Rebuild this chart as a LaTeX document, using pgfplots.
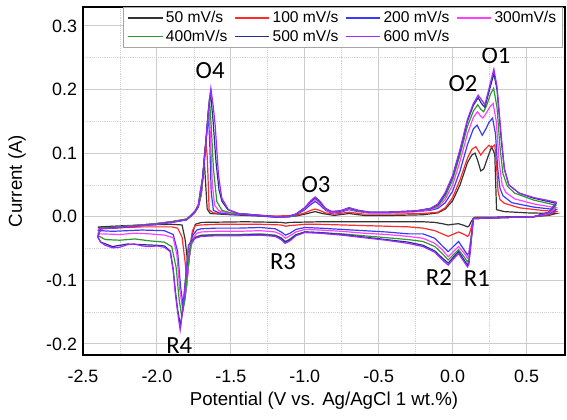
\documentclass[border=0pt]{standalone}
\usepackage{pgfplots}
\pgfplotsset{compat=1.18}
\usepackage{fontspec}
\setmainfont{Liberation Sans}
\newfontfamily\calib{Carlito}

\definecolor{c50}{HTML}{333333}
\definecolor{c100}{HTML}{FF2A2A}
\definecolor{c200}{HTML}{3A3AFF}
\definecolor{c300}{HTML}{FF40FF}
\definecolor{c400}{HTML}{2E9A2E}
\definecolor{c500}{HTML}{2B2B8F}
\definecolor{c600}{HTML}{9A2BFF}

\newcommand{\annot}{\calib\fontsize{18.5}{20}\selectfont}

\begin{document}
\begin{tikzpicture}
\begin{axis}[
    name=ax,
    scale only axis,
    width=361.5pt, height=261pt,
    xmin=-2.5, xmax=0.76,
    ymin=-0.2175, ymax=0.3297,
    xtick={-2.5,-2,-1.5,-1,-0.5,0,0.5},
    ytick={-0.2,-0.1,0,0.1,0.2,0.3},
    minor x tick num=1, minor y tick num=1,
    major tick length=0pt, minor tick length=0pt,
    grid=both,
    major grid style={gray!40, line width=0.8pt},
    minor grid style={gray!35, densely dotted, line width=0.5pt},
    axis line style={line width=1pt},
    /pgf/number format/.cd, fixed, fixed zerofill, precision=1, assume math mode=true,
    /pgfplots/.cd,
    ticklabel style={font=\fontsize{13.4}{16}\selectfont},
    xticklabel style={yshift=-8pt},
    yticklabel style={xshift=-1pt},
    xlabel={Potential (V vs. Ag/AgCl 1 wt.\%)},
    ylabel={Current (A)},
    label style={font=\fontsize{14}{16}\selectfont},
    xlabel style={at={(axis description cs:0.5,-0.13)}, anchor=center},
    ylabel style={at={(axis description cs:-0.137,0.5)}, anchor=center},
    legend columns=4,
    legend cell align=left,
    legend image code/.code={\draw[#1, line width=0.8pt] (0pt,0pt) -- (26pt,0pt);},
    legend style={at={(rel axis cs:0.996,1)}, anchor=north east,
        draw=gray!70, line width=0.5pt, fill=white,
        font=\fontsize{11.7}{13}\selectfont,
        inner xsep=3pt, inner ysep=1pt,
        /tikz/every even column/.append style={column sep=3pt}},
    every axis plot/.append style={line width=0.9pt},
]

% 50 mV/s
\addplot[c50] coordinates {
(-2.40,-0.016) (-2.38,-0.018) (-2.3,-0.017) (-2.2,-0.015) (-2.1,-0.013) (-2.0,-0.011) (-1.9,-0.008) (-1.8,-0.004) (-1.77,0.001) (-1.74,0.008) (-1.72,0.015) (-1.70,0.035) (-1.69,0.060) (-1.68,0.089) (-1.67,0.050) (-1.66,0.012) (-1.64,0.005) (-1.5,0.003) (-1.4,0.002) (-1.2,0.000) (-1.06,0.001) (-1.0,0.004) (-0.93,0.008) (-0.88,0.005) (-0.8,0.002) (-0.70,0.005) (-0.6,0.002) (-0.4,0.002) (-0.2,0.003) (-0.1,0.006) (-0.05,0.012) (0.0,0.025) (0.05,0.050) (0.1,0.085) (0.13,0.097) (0.151,0.100) (0.17,0.088) (0.19,0.072) (0.21,0.075) (0.24,0.095) (0.264,0.110) (0.285,0.098) (0.297,0.011) (0.35,0.008) (0.5,0.006) (0.7,0.005)
(0.65,0.002) (0.55,0.000) (0.4,0.000) (0.25,-0.001) (0.15,-0.001) (0.14,-0.003) (0.125,-0.008) (0.11,-0.015) (0.10,-0.016) (0.08,-0.014) (0.04,-0.011) (0.0,-0.012) (-0.03,-0.013) (-0.07,-0.011) (-0.12,-0.009) (-0.2,-0.008) (-0.45,-0.008) (-0.9,-0.008) (-1.1,-0.009) (-1.13,-0.010) (-1.16,-0.009) (-1.4,-0.008) (-1.7,-0.009) (-1.74,-0.012) (-1.765,-0.030) (-1.79,-0.076) (-1.81,-0.035) (-1.83,-0.013) (-1.9,-0.012) (-2.1,-0.013) (-2.3,-0.015) (-2.38,-0.016) (-2.40,-0.016)
};
\addlegendentry{50 mV/s}

% 100 mV/s
\addplot[c100] coordinates {
(-2.40,-0.018) (-2.38,-0.018) (-2.3,-0.017) (-2.2,-0.015) (-2.1,-0.013) (-2.0,-0.011) (-1.9,-0.008) (-1.8,-0.004) (-1.77,0.001) (-1.74,0.008) (-1.72,0.016) (-1.70,0.036) (-1.69,0.060) (-1.68,0.095) (-1.669,0.118) (-1.66,0.095) (-1.655,0.066) (-1.647,0.011) (-1.62,0.006) (-1.5,0.004) (-1.4,0.003) (-1.2,0.001) (-1.06,0.002) (-1.0,0.006) (-0.96,0.010) (-0.93,0.012) (-0.9,0.010) (-0.86,0.006) (-0.8,0.004) (-0.70,0.007) (-0.6,0.004) (-0.4,0.004) (-0.2,0.005) (-0.1,0.007) (-0.05,0.014) (0.0,0.030) (0.05,0.058) (0.1,0.092) (0.13,0.106) (0.157,0.110) (0.175,0.103) (0.19,0.097) (0.22,0.106) (0.245,0.112) (0.265,0.109) (0.285,0.113) (0.297,0.080) (0.307,0.040) (0.32,0.027) (0.35,0.021) (0.45,0.014) (0.6,0.010) (0.7,0.008)
(0.65,0.003) (0.55,0.000) (0.4,-0.001) (0.25,-0.002) (0.15,-0.002) (0.14,-0.003) (0.125,-0.018) (0.11,-0.029) (0.10,-0.031) (0.08,-0.028) (0.04,-0.024) (0.0,-0.028) (-0.03,-0.031) (-0.07,-0.027) (-0.12,-0.022) (-0.2,-0.018) (-0.3,-0.016) (-0.45,-0.015) (-0.6,-0.014) (-0.75,-0.013) (-0.9,-0.012) (-1.0,-0.012) (-1.1,-0.014) (-1.13,-0.015) (-1.16,-0.013) (-1.3,-0.012) (-1.6,-0.012) (-1.7,-0.013) (-1.74,-0.014) (-1.76,-0.022) (-1.78,-0.060) (-1.797,-0.0995) (-1.81,-0.070) (-1.83,-0.032) (-1.86,-0.018) (-1.9,-0.016) (-2.1,-0.016) (-2.3,-0.018) (-2.38,-0.018) (-2.40,-0.018)
};
\addlegendentry{100 mV/s}

% 200 mV/s
\addplot[c200] coordinates {
(-2.40,-0.022) (-2.38,-0.018) (-2.3,-0.017) (-2.2,-0.015) (-2.1,-0.013) (-2.0,-0.011) (-1.9,-0.008) (-1.8,-0.004) (-1.77,0.002) (-1.74,0.009) (-1.72,0.018) (-1.70,0.038) (-1.69,0.062) (-1.675,0.105) (-1.651,0.160) (-1.642,0.110) (-1.633,0.039) (-1.618,0.010) (-1.58,0.006) (-1.5,0.004) (-1.4,0.003) (-1.3,0.001) (-1.2,-0.001) (-1.1,0.000) (-1.05,0.004) (-1.0,0.011) (-0.96,0.019) (-0.93,0.024) (-0.9,0.019) (-0.86,0.010) (-0.82,0.006) (-0.76,0.007) (-0.70,0.011) (-0.64,0.008) (-0.56,0.006) (-0.45,0.006) (-0.35,0.007) (-0.25,0.008) (-0.15,0.010) (-0.1,0.013) (-0.05,0.022) (0.0,0.040) (0.05,0.072) (0.1,0.113) (0.14,0.138) (0.165,0.144) (0.185,0.135) (0.20,0.128) (0.225,0.138) (0.245,0.148) (0.27,0.155) (0.29,0.130) (0.305,0.075) (0.32,0.045) (0.34,0.033) (0.4,0.022) (0.55,0.015) (0.7,0.011)
(0.65,0.004) (0.55,0.000) (0.4,-0.001) (0.25,-0.002) (0.15,-0.003) (0.14,-0.003) (0.125,-0.032) (0.11,-0.057) (0.10,-0.060) (0.08,-0.053) (0.04,-0.039) (0.0,-0.048) (-0.03,-0.055) (-0.07,-0.046) (-0.12,-0.034) (-0.2,-0.027) (-0.3,-0.027) (-0.45,-0.024) (-0.6,-0.022) (-0.75,-0.020) (-0.9,-0.018) (-1.0,-0.017) (-1.06,-0.020) (-1.1,-0.026) (-1.13,-0.029) (-1.16,-0.024) (-1.2,-0.019) (-1.3,-0.017) (-1.45,-0.018) (-1.6,-0.018) (-1.7,-0.019) (-1.73,-0.021) (-1.76,-0.030) (-1.78,-0.060) (-1.80,-0.110) (-1.822,-0.142) (-1.84,-0.110) (-1.86,-0.055) (-1.89,-0.028) (-1.95,-0.022) (-2.1,-0.021) (-2.2,-0.022) (-2.3,-0.023) (-2.38,-0.022) (-2.40,-0.022)
};
\addlegendentry{200 mV/s}

% 300 mV/s
\addplot[c300] coordinates {
(-2.40,-0.027) (-2.38,-0.018) (-2.3,-0.017) (-2.2,-0.015) (-2.1,-0.013) (-2.0,-0.011) (-1.9,-0.008) (-1.8,-0.004) (-1.77,0.002) (-1.74,0.009) (-1.72,0.018) (-1.70,0.038) (-1.69,0.062) (-1.672,0.105) (-1.648,0.170) (-1.638,0.125) (-1.625,0.050) (-1.61,0.018) (-1.58,0.009) (-1.5,0.005) (-1.4,0.004) (-1.3,0.002) (-1.2,0.000) (-1.1,0.000) (-1.05,0.005) (-1.0,0.013) (-0.96,0.022) (-0.93,0.027) (-0.9,0.022) (-0.86,0.011) (-0.82,0.007) (-0.76,0.008) (-0.70,0.012) (-0.64,0.009) (-0.56,0.006) (-0.45,0.006) (-0.35,0.007) (-0.25,0.008) (-0.15,0.011) (-0.1,0.015) (-0.05,0.027) (0.0,0.050) (0.05,0.087) (0.1,0.130) (0.14,0.156) (0.168,0.165) (0.19,0.158) (0.205,0.155) (0.225,0.162) (0.25,0.172) (0.274,0.178) (0.295,0.150) (0.315,0.085) (0.335,0.050) (0.36,0.038) (0.42,0.028) (0.55,0.020) (0.7,0.014)
(0.65,0.005) (0.55,0.000) (0.4,-0.001) (0.25,-0.002) (0.15,-0.003) (0.14,-0.003) (0.125,-0.034) (0.11,-0.062) (0.10,-0.065) (0.08,-0.058) (0.04,-0.047) (0.0,-0.056) (-0.03,-0.063) (-0.07,-0.052) (-0.12,-0.042) (-0.2,-0.034) (-0.3,-0.031) (-0.45,-0.028) (-0.6,-0.026) (-0.75,-0.023) (-0.9,-0.021) (-1.0,-0.020) (-1.06,-0.024) (-1.1,-0.030) (-1.13,-0.034) (-1.16,-0.028) (-1.2,-0.024) (-1.3,-0.022) (-1.45,-0.023) (-1.6,-0.023) (-1.7,-0.024) (-1.73,-0.026) (-1.76,-0.035) (-1.78,-0.062) (-1.80,-0.112) (-1.825,-0.148) (-1.845,-0.115) (-1.865,-0.060) (-1.89,-0.033) (-1.95,-0.029) (-2.05,-0.027) (-2.15,-0.026) (-2.25,-0.028) (-2.38,-0.027) (-2.40,-0.027)
};
\addlegendentry{300mV/s}

% 400 mV/s
\addplot[c400] coordinates {
(-2.40,-0.030) (-2.38,-0.018) (-2.3,-0.017) (-2.2,-0.015) (-2.1,-0.013) (-2.0,-0.011) (-1.9,-0.008) (-1.8,-0.004) (-1.77,0.002) (-1.74,0.009) (-1.72,0.018) (-1.70,0.038) (-1.69,0.062) (-1.674,0.102) (-1.645,0.186) (-1.632,0.140) (-1.618,0.076) (-1.595,0.024) (-1.56,0.010) (-1.5,0.006) (-1.4,0.004) (-1.3,0.002) (-1.2,0.000) (-1.1,0.000) (-1.05,0.005) (-1.0,0.014) (-0.96,0.024) (-0.93,0.029) (-0.9,0.024) (-0.86,0.012) (-0.82,0.008) (-0.76,0.009) (-0.70,0.013) (-0.64,0.009) (-0.56,0.007) (-0.45,0.007) (-0.35,0.008) (-0.25,0.009) (-0.15,0.012) (-0.1,0.017) (-0.05,0.032) (0.0,0.058) (0.05,0.097) (0.1,0.142) (0.14,0.166) (0.17,0.176) (0.19,0.169) (0.21,0.165) (0.23,0.175) (0.255,0.192) (0.277,0.202) (0.30,0.172) (0.32,0.110) (0.34,0.068) (0.37,0.048) (0.42,0.037) (0.55,0.026) (0.7,0.018)
(0.65,0.006) (0.55,0.000) (0.4,-0.001) (0.25,-0.002) (0.15,-0.003) (0.14,-0.003) (0.125,-0.036) (0.11,-0.068) (0.10,-0.071) (0.08,-0.064) (0.04,-0.052) (0.0,-0.061) (-0.03,-0.068) (-0.07,-0.058) (-0.12,-0.047) (-0.2,-0.039) (-0.3,-0.036) (-0.45,-0.033) (-0.6,-0.030) (-0.75,-0.027) (-0.9,-0.025) (-1.0,-0.024) (-1.06,-0.028) (-1.1,-0.035) (-1.13,-0.039) (-1.16,-0.033) (-1.2,-0.029) (-1.3,-0.027) (-1.45,-0.028) (-1.6,-0.028) (-1.7,-0.029) (-1.74,-0.032) (-1.77,-0.045) (-1.79,-0.080) (-1.81,-0.130) (-1.832,-0.157) (-1.85,-0.130) (-1.87,-0.080) (-1.90,-0.047) (-1.95,-0.040) (-2.05,-0.038) (-2.15,-0.035) (-2.25,-0.037) (-2.35,-0.036) (-2.38,-0.032) (-2.40,-0.030)
};
\addlegendentry{400mV/s}

% 500 mV/s
\addplot[c500] coordinates {
(-2.40,-0.032) (-2.38,-0.019) (-2.3,-0.018) (-2.2,-0.016) (-2.1,-0.014) (-2.0,-0.012) (-1.9,-0.009) (-1.8,-0.005) (-1.77,0.001) (-1.74,0.009) (-1.72,0.018) (-1.707,0.039) (-1.69,0.062) (-1.674,0.102) (-1.655,0.160) (-1.638,0.196) (-1.62,0.150) (-1.60,0.085) (-1.58,0.042) (-1.56,0.024) (-1.52,0.011) (-1.45,0.005) (-1.4,0.004) (-1.3,0.002) (-1.2,0.000) (-1.12,0.000) (-1.06,0.004) (-1.0,0.014) (-0.96,0.024) (-0.93,0.030) (-0.9,0.024) (-0.86,0.013) (-0.82,0.008) (-0.76,0.009) (-0.70,0.014) (-0.64,0.010) (-0.56,0.007) (-0.45,0.007) (-0.35,0.008) (-0.25,0.009) (-0.15,0.013) (-0.1,0.019) (-0.05,0.036) (0.0,0.063) (0.05,0.103) (0.1,0.150) (0.14,0.175) (0.173,0.187) (0.195,0.178) (0.218,0.172) (0.25,0.200) (0.279,0.225) (0.30,0.200) (0.33,0.118) (0.35,0.075) (0.38,0.050) (0.45,0.037) (0.55,0.029) (0.7,0.021)
(0.65,0.007) (0.55,0.000) (0.4,-0.001) (0.25,-0.002) (0.15,-0.003) (0.14,-0.003) (0.125,-0.038) (0.11,-0.072) (0.10,-0.076) (0.08,-0.069) (0.04,-0.055) (0.0,-0.065) (-0.03,-0.073) (-0.07,-0.065) (-0.12,-0.054) (-0.2,-0.045) (-0.3,-0.040) (-0.45,-0.036) (-0.6,-0.032) (-0.75,-0.028) (-0.9,-0.025) (-1.0,-0.024) (-1.06,-0.029) (-1.1,-0.036) (-1.133,-0.040) (-1.16,-0.034) (-1.2,-0.030) (-1.3,-0.028) (-1.45,-0.029) (-1.6,-0.029) (-1.7,-0.030) (-1.74,-0.033) (-1.77,-0.039) (-1.786,-0.045) (-1.80,-0.080) (-1.82,-0.132) (-1.84,-0.172) (-1.86,-0.146) (-1.876,-0.115) (-1.89,-0.082) (-1.91,-0.054) (-1.95,-0.046) (-2.0,-0.045) (-2.1,-0.044) (-2.2,-0.043) (-2.3,-0.047) (-2.38,-0.040) (-2.40,-0.032)
};
\addlegendentry{500 mV/s}

% 600 mV/s
\addplot[c600] coordinates {
(-2.40,-0.032) (-2.38,-0.019) (-2.3,-0.018) (-2.2,-0.016) (-2.1,-0.014) (-2.0,-0.012) (-1.9,-0.009) (-1.8,-0.005) (-1.77,0.001) (-1.74,0.009) (-1.72,0.018) (-1.707,0.039) (-1.69,0.062) (-1.674,0.102) (-1.651,0.170) (-1.635,0.202) (-1.62,0.175) (-1.606,0.144) (-1.584,0.066) (-1.561,0.029) (-1.516,0.011) (-1.45,0.005) (-1.4,0.004) (-1.3,0.002) (-1.2,0.000) (-1.12,0.000) (-1.06,0.004) (-1.0,0.014) (-0.96,0.025) (-0.93,0.031) (-0.9,0.025) (-0.86,0.013) (-0.82,0.008) (-0.76,0.009) (-0.70,0.014) (-0.64,0.010) (-0.56,0.007) (-0.45,0.007) (-0.35,0.008) (-0.25,0.009) (-0.15,0.013) (-0.1,0.020) (-0.05,0.038) (0.0,0.065) (0.05,0.106) (0.1,0.153) (0.14,0.178) (0.173,0.191) (0.195,0.184) (0.218,0.176) (0.25,0.205) (0.279,0.232) (0.30,0.205) (0.331,0.121) (0.35,0.075) (0.38,0.050) (0.45,0.037) (0.55,0.030) (0.7,0.023)
(0.65,0.007) (0.55,0.000) (0.4,-0.001) (0.25,-0.002) (0.15,-0.003) (0.14,-0.003) (0.125,-0.040) (0.11,-0.075) (0.10,-0.079) (0.08,-0.072) (0.04,-0.058) (0.0,-0.068) (-0.03,-0.076) (-0.07,-0.068) (-0.12,-0.056) (-0.2,-0.047) (-0.3,-0.042) (-0.45,-0.037) (-0.6,-0.033) (-0.75,-0.029) (-0.9,-0.026) (-1.0,-0.025) (-1.06,-0.030) (-1.1,-0.038) (-1.133,-0.042) (-1.16,-0.036) (-1.2,-0.031) (-1.3,-0.029) (-1.45,-0.030) (-1.6,-0.030) (-1.7,-0.031) (-1.74,-0.034) (-1.77,-0.040) (-1.786,-0.045) (-1.80,-0.082) (-1.82,-0.136) (-1.843,-0.178) (-1.86,-0.150) (-1.876,-0.120) (-1.89,-0.085) (-1.91,-0.055) (-1.95,-0.048) (-2.0,-0.046) (-2.05,-0.047) (-2.1,-0.046) (-2.15,-0.043) (-2.2,-0.044) (-2.25,-0.048) (-2.3,-0.049) (-2.35,-0.045) (-2.38,-0.040) (-2.40,-0.032)
};
\addlegendentry{600 mV/s}

% peak labels
\node[font=\annot] at (axis cs:0.293,0.253) {O1};
\node[font=\annot] at (axis cs:0.070,0.209) {O2};
\node[font=\annot] at (axis cs:-0.924,0.051) {O3};
\node[font=\annot] at (axis cs:-1.640,0.229) {O4};
\node[font=\annot] at (axis cs:0.164,-0.097) {R1};
\node[font=\annot] at (axis cs:-0.093,-0.095) {R2};
\node[font=\annot] at (axis cs:-1.147,-0.071) {R3};
\node[font=\annot] at (axis cs:-1.849,-0.202) {R4};
\end{axis}
\pgfresetboundingbox
\path (ax.south west) ++(-62.25pt,-48pt) rectangle ++(425.25pt,314.25pt);
\end{tikzpicture}
\end{document}
